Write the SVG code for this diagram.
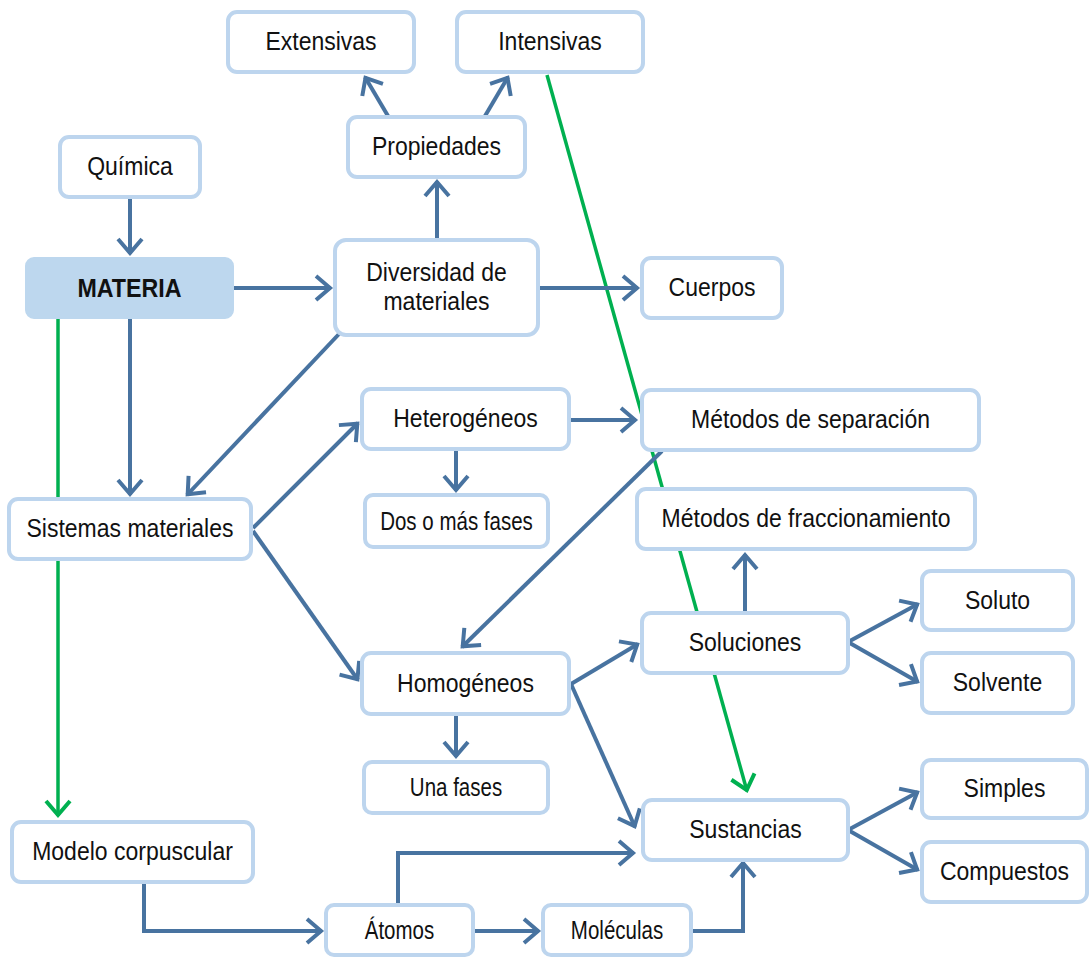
<svg xmlns="http://www.w3.org/2000/svg" width="1089" height="958" viewBox="0 0 1089 958">
<style>
.box{fill:#fff;stroke:#BDD5EE;stroke-width:4}
.main{fill:#BDD7EE;stroke:#BDD7EE;stroke-width:4}
.t{font-family:"Liberation Sans",Arial,sans-serif;font-size:25px;fill:#111;text-anchor:middle}
.b{font-weight:bold}
.c{fill:none;stroke:#4873A0;stroke-width:4;marker-end:url(#ab)}
.g{fill:none;stroke:#00B050;stroke-width:3.5;marker-end:url(#ag)}
</style>
<defs>
<marker id="ab" markerUnits="userSpaceOnUse" viewBox="0 0 24 28" markerWidth="24" markerHeight="28" refX="19" refY="14" orient="auto" overflow="visible">
<path d="M4,2 L18,14 L4,26" fill="none" stroke="#4873A0" stroke-width="4"/>
</marker>
<marker id="ag" markerUnits="userSpaceOnUse" viewBox="0 0 24 28" markerWidth="24" markerHeight="28" refX="19" refY="14" orient="auto" overflow="visible">
<path d="M4,2 L18,14 L4,26" fill="none" stroke="#00B050" stroke-width="4"/>
</marker>
</defs>
<rect width="1089" height="958" fill="#fff"/>
<g id="connectors">
<path class="g" d="M58,317 L58,816"/>
<path class="g" d="M547,75 L747,791"/>
<path class="c" d="M130,197 L130,254"/>
<path class="c" d="M232,288 L331,288"/>
<path class="c" d="M437,240 L437,181"/>
<path class="c" d="M388,116 L365,77"/>
<path class="c" d="M485,116 L508,77"/>
<path class="c" d="M538,288 L638,288"/>
<path class="c" d="M130,317 L130,495"/>
<path class="c" d="M339,334 L187,495"/>
<path class="c" d="M253,528 L358,423"/>
<path class="c" d="M253,531 L358,680"/>
<path class="c" d="M570,420 L636,420"/>
<path class="c" d="M456,449 L456,491"/>
<path class="c" d="M662,451 L462,647"/>
<path class="c" d="M456,716 L456,757"/>
<path class="c" d="M571,684 L638,644"/>
<path class="c" d="M571,684 L635,827"/>
<path class="c" d="M745,613 L745,554"/>
<path class="c" d="M848,642 L918,604"/>
<path class="c" d="M848,642 L918,682"/>
<path class="c" d="M848,830 L918,792"/>
<path class="c" d="M848,830 L918,870"/>
<path class="c" d="M144,882 L144,931 L322,931"/>
<path class="c" d="M398,905 L398,853 L634,853"/>
<path class="c" d="M473,931 L539,931"/>
<path class="c" d="M691,931 L743,931 L743,862"/>
</g>
<g id="n-extensivas"><rect class="box" x="228" y="12" width="186" height="60" rx="9"/><text class="t" transform="translate(321,50) scale(0.92,1)">Extensivas</text></g>
<g id="n-intensivas"><rect class="box" x="457" y="12" width="186" height="60" rx="9"/><text class="t" transform="translate(550,50) scale(0.92,1)">Intensivas</text></g>
<g id="n-propiedades"><rect class="box" x="348" y="117" width="177" height="60" rx="9"/><text class="t" transform="translate(436.5,155) scale(0.92,1)">Propiedades</text></g>
<g id="n-quimica"><rect class="box" x="60" y="137" width="140" height="60" rx="9"/><text class="t" transform="translate(130,175) scale(0.92,1)">Química</text></g>
<g id="n-materia"><rect class="main" x="27" y="259" width="205" height="58" rx="7"/><text class="t b" transform="translate(129.5,297) scale(0.93,1)">MATERIA</text></g>
<g id="n-diversidad"><rect class="box" x="335" y="240" width="203" height="95" rx="11"/><text class="t" transform="translate(436.5,281) scale(0.92,1)">Diversidad de</text><text class="t" transform="translate(436.5,310) scale(0.92,1)">materiales</text></g>
<g id="n-cuerpos"><rect class="box" x="642" y="258" width="140" height="60" rx="9"/><text class="t" transform="translate(712,296) scale(0.92,1)">Cuerpos</text></g>
<g id="n-heterogeneos"><rect class="box" x="362" y="389" width="207" height="60" rx="9"/><text class="t" transform="translate(465.5,427) scale(0.92,1)">Heterogéneos</text></g>
<g id="n-separacion"><rect class="box" x="642" y="390" width="337" height="60" rx="9"/><text class="t" transform="translate(810.5,428) scale(0.92,1)">Métodos de separación</text></g>
<g id="n-sistemas"><rect class="box" x="9" y="499" width="242" height="60" rx="9"/><text class="t" transform="translate(130,537) scale(0.92,1)">Sistemas materiales</text></g>
<g id="n-dosfases"><rect class="box" x="365" y="495" width="183" height="52" rx="8"/><text class="t" transform="translate(456.5,530) scale(0.82,1)">Dos o más fases</text></g>
<g id="n-fraccionamiento"><rect class="box" x="637" y="489" width="338" height="60" rx="9"/><text class="t" transform="translate(806,527) scale(0.92,1)">Métodos de fraccionamiento</text></g>
<g id="n-soluto"><rect class="box" x="922" y="571" width="151" height="59" rx="9"/><text class="t" transform="translate(997.5,609) scale(0.92,1)">Soluto</text></g>
<g id="n-soluciones"><rect class="box" x="642" y="613" width="206" height="60" rx="9"/><text class="t" transform="translate(745,651) scale(0.92,1)">Soluciones</text></g>
<g id="n-homogeneos"><rect class="box" x="362" y="653" width="207" height="61" rx="9"/><text class="t" transform="translate(465.5,692) scale(0.92,1)">Homogéneos</text></g>
<g id="n-solvente"><rect class="box" x="922" y="653" width="151" height="60" rx="9"/><text class="t" transform="translate(997.5,691) scale(0.92,1)">Solvente</text></g>
<g id="n-unafases"><rect class="box" x="364" y="762" width="184" height="51" rx="8"/><text class="t" transform="translate(456,796) scale(0.82,1)">Una fases</text></g>
<g id="n-simples"><rect class="box" x="922" y="760" width="165" height="58" rx="9"/><text class="t" transform="translate(1004.5,797) scale(0.92,1)">Simples</text></g>
<g id="n-sustancias"><rect class="box" x="643" y="800" width="205" height="60" rx="9"/><text class="t" transform="translate(745.5,838) scale(0.92,1)">Sustancias</text></g>
<g id="n-modelo"><rect class="box" x="12" y="822" width="241" height="60" rx="9"/><text class="t" transform="translate(132.5,860) scale(0.92,1)">Modelo corpuscular</text></g>
<g id="n-compuestos"><rect class="box" x="922" y="842" width="165" height="60" rx="9"/><text class="t" transform="translate(1004.5,880) scale(0.92,1)">Compuestos</text></g>
<g id="n-atomos"><rect class="box" x="326" y="905" width="147" height="50" rx="8"/><text class="t" transform="translate(399.5,939) scale(0.82,1)">Átomos</text></g>
<g id="n-moleculas"><rect class="box" x="543" y="905" width="148" height="50" rx="8"/><text class="t" transform="translate(617,939) scale(0.82,1)">Moléculas</text></g>
</svg>
